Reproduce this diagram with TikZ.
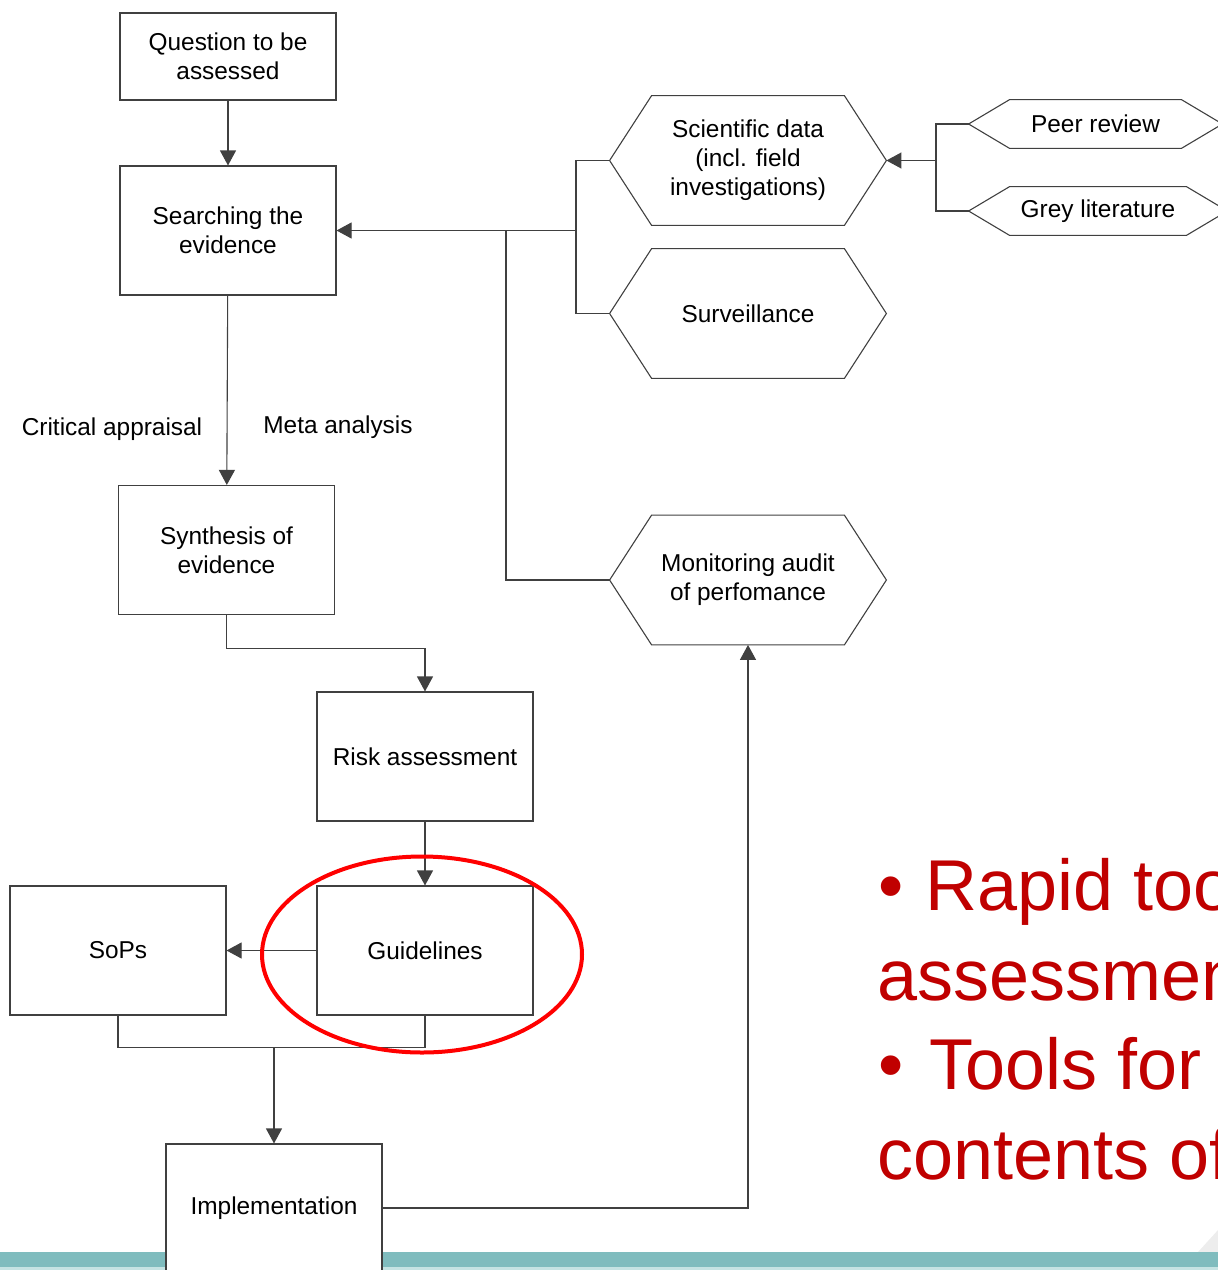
\documentclass[tikz,border=0pt]{standalone}
\usepackage{fontspec}
\setmainfont{Liberation Sans}
\usetikzlibrary{arrows.meta}

\definecolor{bandteal}{HTML}{7FBCBE}
\definecolor{bandlight}{HTML}{C5E3E3}
\definecolor{bulletred}{HTML}{C00000}

\tikzset{
  link/.style={line width=0.55pt, draw=black!75},
  arr/.style={link, -{Triangle[length=7.5pt,width=8pt]}},
  box/.style={draw=black!75, line width=0.55pt, fill=white,
    minimum width=108pt, minimum height=64.5pt, inner sep=0pt,
    align=center, font=\fontsize{12.2}{14.5}\selectfont},
  hexbody/.style={minimum width=138pt, minimum height=64.5pt, inner sep=0pt,
    align=center, font=\fontsize{12.2}{14.5}\selectfont},
  lbl/.style={inner sep=0pt, font=\fontsize{12.2}{14.5}\selectfont},
  redtxt/.style={inner sep=0pt, anchor=base west, text=bulletred,
    font=\fontsize{36}{40}\selectfont},
}

% outline of a two-pointed hexagon around a named node
\newcommand\hexoutline[2]{%
  \draw[link] ([xshift=#2]#1.north west) -- ([xshift=-#2]#1.north east)
    -- (#1.east) -- ([xshift=-#2]#1.south east)
    -- ([xshift=#2]#1.south west) -- (#1.west) -- cycle;}

\begin{document}
\begin{tikzpicture}[x=0.5pt,y=-0.5pt]
\useasboundingbox (0,0) rectangle (1218,1270);
\clip (0,0) rectangle (1218,1270);

% footer band
\fill[black!7] (1218,1230) -- (1218,1252) -- (1198,1252) -- cycle;
\fill[bandteal] (0,1252) rectangle (1218,1267);
\fill[bandlight] (0,1267) rectangle (1218,1270);

% process boxes
\node[box, minimum height=43.5pt] (q) at (228,56.5) {Question to be\\assessed};
\node[box] (se) at (228,230.5) {Searching the\\evidence};
\node[box] (sy) at (226.5,550) {Synthesis of\\evidence};
\node[box] (ra) at (425,756.5) {Risk assessment};
\node[box] (gu) at (425,950.5) {Guidelines};
\node[box] (so) at (118,950.5) {SoPs};
\node[box, minimum height=64pt] (im) at (274,1208) {Implementation};

% evidence sources
\node[hexbody] (sd) at (748,160.5) {Scientific data\\(incl. field\\investigations)};
\hexoutline{sd}{21pt}
\node[hexbody] (sv) at (748,313.5) {Surveillance};
\hexoutline{sv}{21pt}
\node[hexbody] (mo) at (748,580) {Monitoring audit\\of perfomance};
\hexoutline{mo}{21pt}
\node[hexbody, minimum width=126.5pt, minimum height=24pt] (pr) at (1095.5,124) {Peer review};
\hexoutline{pr}{20.5pt}
\node[hexbody, minimum width=129pt, minimum height=24pt] (gl) at (1098,211) {Grey literature};
\hexoutline{gl}{20.5pt}

% edge labels
\node[lbl] (ca) at (112,429) {Critical appraisal};
\node[lbl] (ma) at (338,427) {Meta analysis};

% junction points
\coordinate (br) at (576,230.5);
\coordinate (jm) at (506,230.5);
\coordinate (bl) at (936,160.5);
\coordinate (jb) at (274,1047);

% main flow
\draw[arr] (q) -- (se);
\draw[arr] (se) -- (sy);
\draw[arr] (sy.south) -- ++(0,33) -| (ra.north);
\draw[arr] (ra) -- (gu);
\draw[arr] (gu) -- (so);
\draw[link] (so.south) -- ++(0,32) -| (gu.south);
\draw[arr] (jb) -- (im.north);
\draw[arr] (im.east) -| (mo.south);

% feedback into the search
\draw[link] (sd.west) -| (br) |- (sv.west);
\draw[arr] (br) -- (se.east);
\draw[link] (mo.west) -| (jm);
\draw[link] (pr.west) -| (bl) |- (gl.west);
\draw[arr] (bl) -- (sd.east);

% highlight
\draw[red, line width=2pt] (422,954.5) ellipse [x radius=80pt, y radius=49pt];

% bullet text
\node[redtxt] (b1) at (878,910) {\textbullet};
\node[redtxt] (t1) at (925,910) {Rapid tools};
\node[redtxt] (t2) at (877,1000) {assessment};
\node[redtxt] (b2) at (878,1089) {\textbullet};
\node[redtxt] (t3) at (929,1089) {Tools for};
\node[redtxt] (t4) at (877,1179) {contents of};
\end{tikzpicture}
\end{document}
